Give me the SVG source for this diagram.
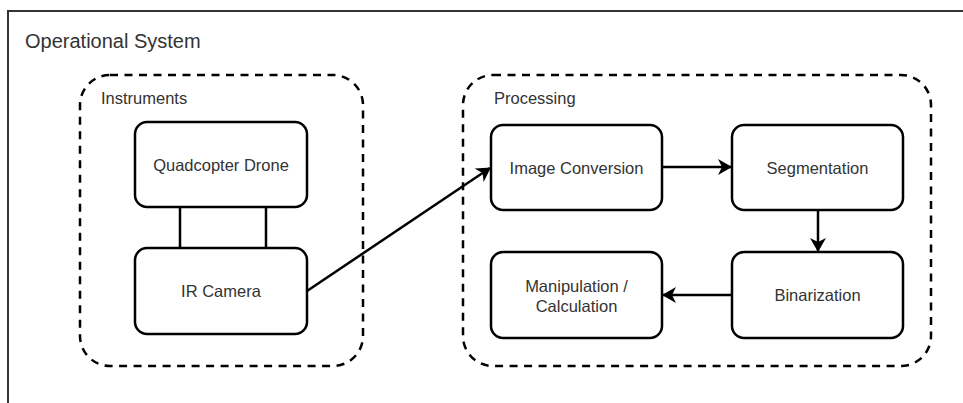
<svg xmlns="http://www.w3.org/2000/svg" width="963" height="403" viewBox="0 0 963 403">
  <style>
    .frame { fill: #ffffff; stroke: #333333; stroke-width: 2; }
    .group { fill: none; stroke: #000000; stroke-width: 2.5; stroke-dasharray: 8 6.5; }
    .node { fill: #ffffff; stroke: #000000; stroke-width: 2.5; }
    .txt { font-family: "Liberation Sans", Arial, sans-serif; font-size: 16.5px; fill: #333333; }
    .title { font-family: "Liberation Sans", Arial, sans-serif; font-size: 20px; fill: #333333; }
    .mid { text-anchor: middle; }
    .edge { fill: none; stroke: #000000; stroke-width: 2.5; }
  </style>
  <defs>
    <marker id="arrow" viewBox="0 0 14 16" refX="13" refY="8" markerWidth="14" markerHeight="16" markerUnits="userSpaceOnUse" orient="auto">
      <path d="M0,0 L14,8 L0,16 L4,8 Z" fill="#000000"/>
    </marker>
  </defs>
  <rect width="963" height="403" fill="#ffffff"/>
  <g id="operational-system">
    <rect class="frame" x="8" y="11" width="990" height="430"/>
    <text class="title" x="25" y="48">Operational System</text>
  </g>
  <g id="instruments">
    <rect class="group" x="80" y="75" width="283" height="291" rx="30" ry="30"/>
    <text class="txt" x="101" y="104">Instruments</text>
  </g>
  <g id="processing">
    <rect class="group" x="463" y="75" width="468" height="291" rx="30" ry="30"/>
    <text class="txt" x="494" y="104">Processing</text>
  </g>
  <g id="quadcopter-drone">
    <rect class="node" x="135" y="122" width="172" height="85" rx="12" ry="12"/>
    <text class="txt mid" x="221" y="170.5">Quadcopter Drone</text>
  </g>
  <g id="ir-camera">
    <rect class="node" x="135" y="248" width="172" height="86" rx="12" ry="12"/>
    <text class="txt mid" x="221" y="297">IR Camera</text>
  </g>
  <g id="image-conversion">
    <rect class="node" x="491" y="125" width="171" height="85" rx="12" ry="12"/>
    <text class="txt mid" x="576.5" y="173.5">Image Conversion</text>
  </g>
  <g id="segmentation">
    <rect class="node" x="732" y="125" width="171" height="85" rx="12" ry="12"/>
    <text class="txt mid" x="817.5" y="173.5">Segmentation</text>
  </g>
  <g id="binarization">
    <rect class="node" x="732" y="252" width="171" height="86" rx="12" ry="12"/>
    <text class="txt mid" x="817.5" y="301">Binarization</text>
  </g>
  <g id="manipulation-calculation">
    <rect class="node" x="491" y="252" width="171" height="86" rx="12" ry="12"/>
    <text class="txt mid" x="576.5" y="292">Manipulation /</text>
    <text class="txt mid" x="576.5" y="312">Calculation</text>
  </g>
  <g id="connectors">
    <line class="edge" x1="180" y1="207" x2="180" y2="248"/>
    <line class="edge" x1="266" y1="207" x2="266" y2="248"/>
    <line class="edge" x1="307" y1="291" x2="490" y2="168" marker-end="url(#arrow)"/>
    <line class="edge" x1="662" y1="167" x2="731" y2="167" marker-end="url(#arrow)"/>
    <line class="edge" x1="818" y1="210" x2="818" y2="251" marker-end="url(#arrow)"/>
    <line class="edge" x1="732" y1="295" x2="663" y2="295" marker-end="url(#arrow)"/>
  </g>
</svg>
